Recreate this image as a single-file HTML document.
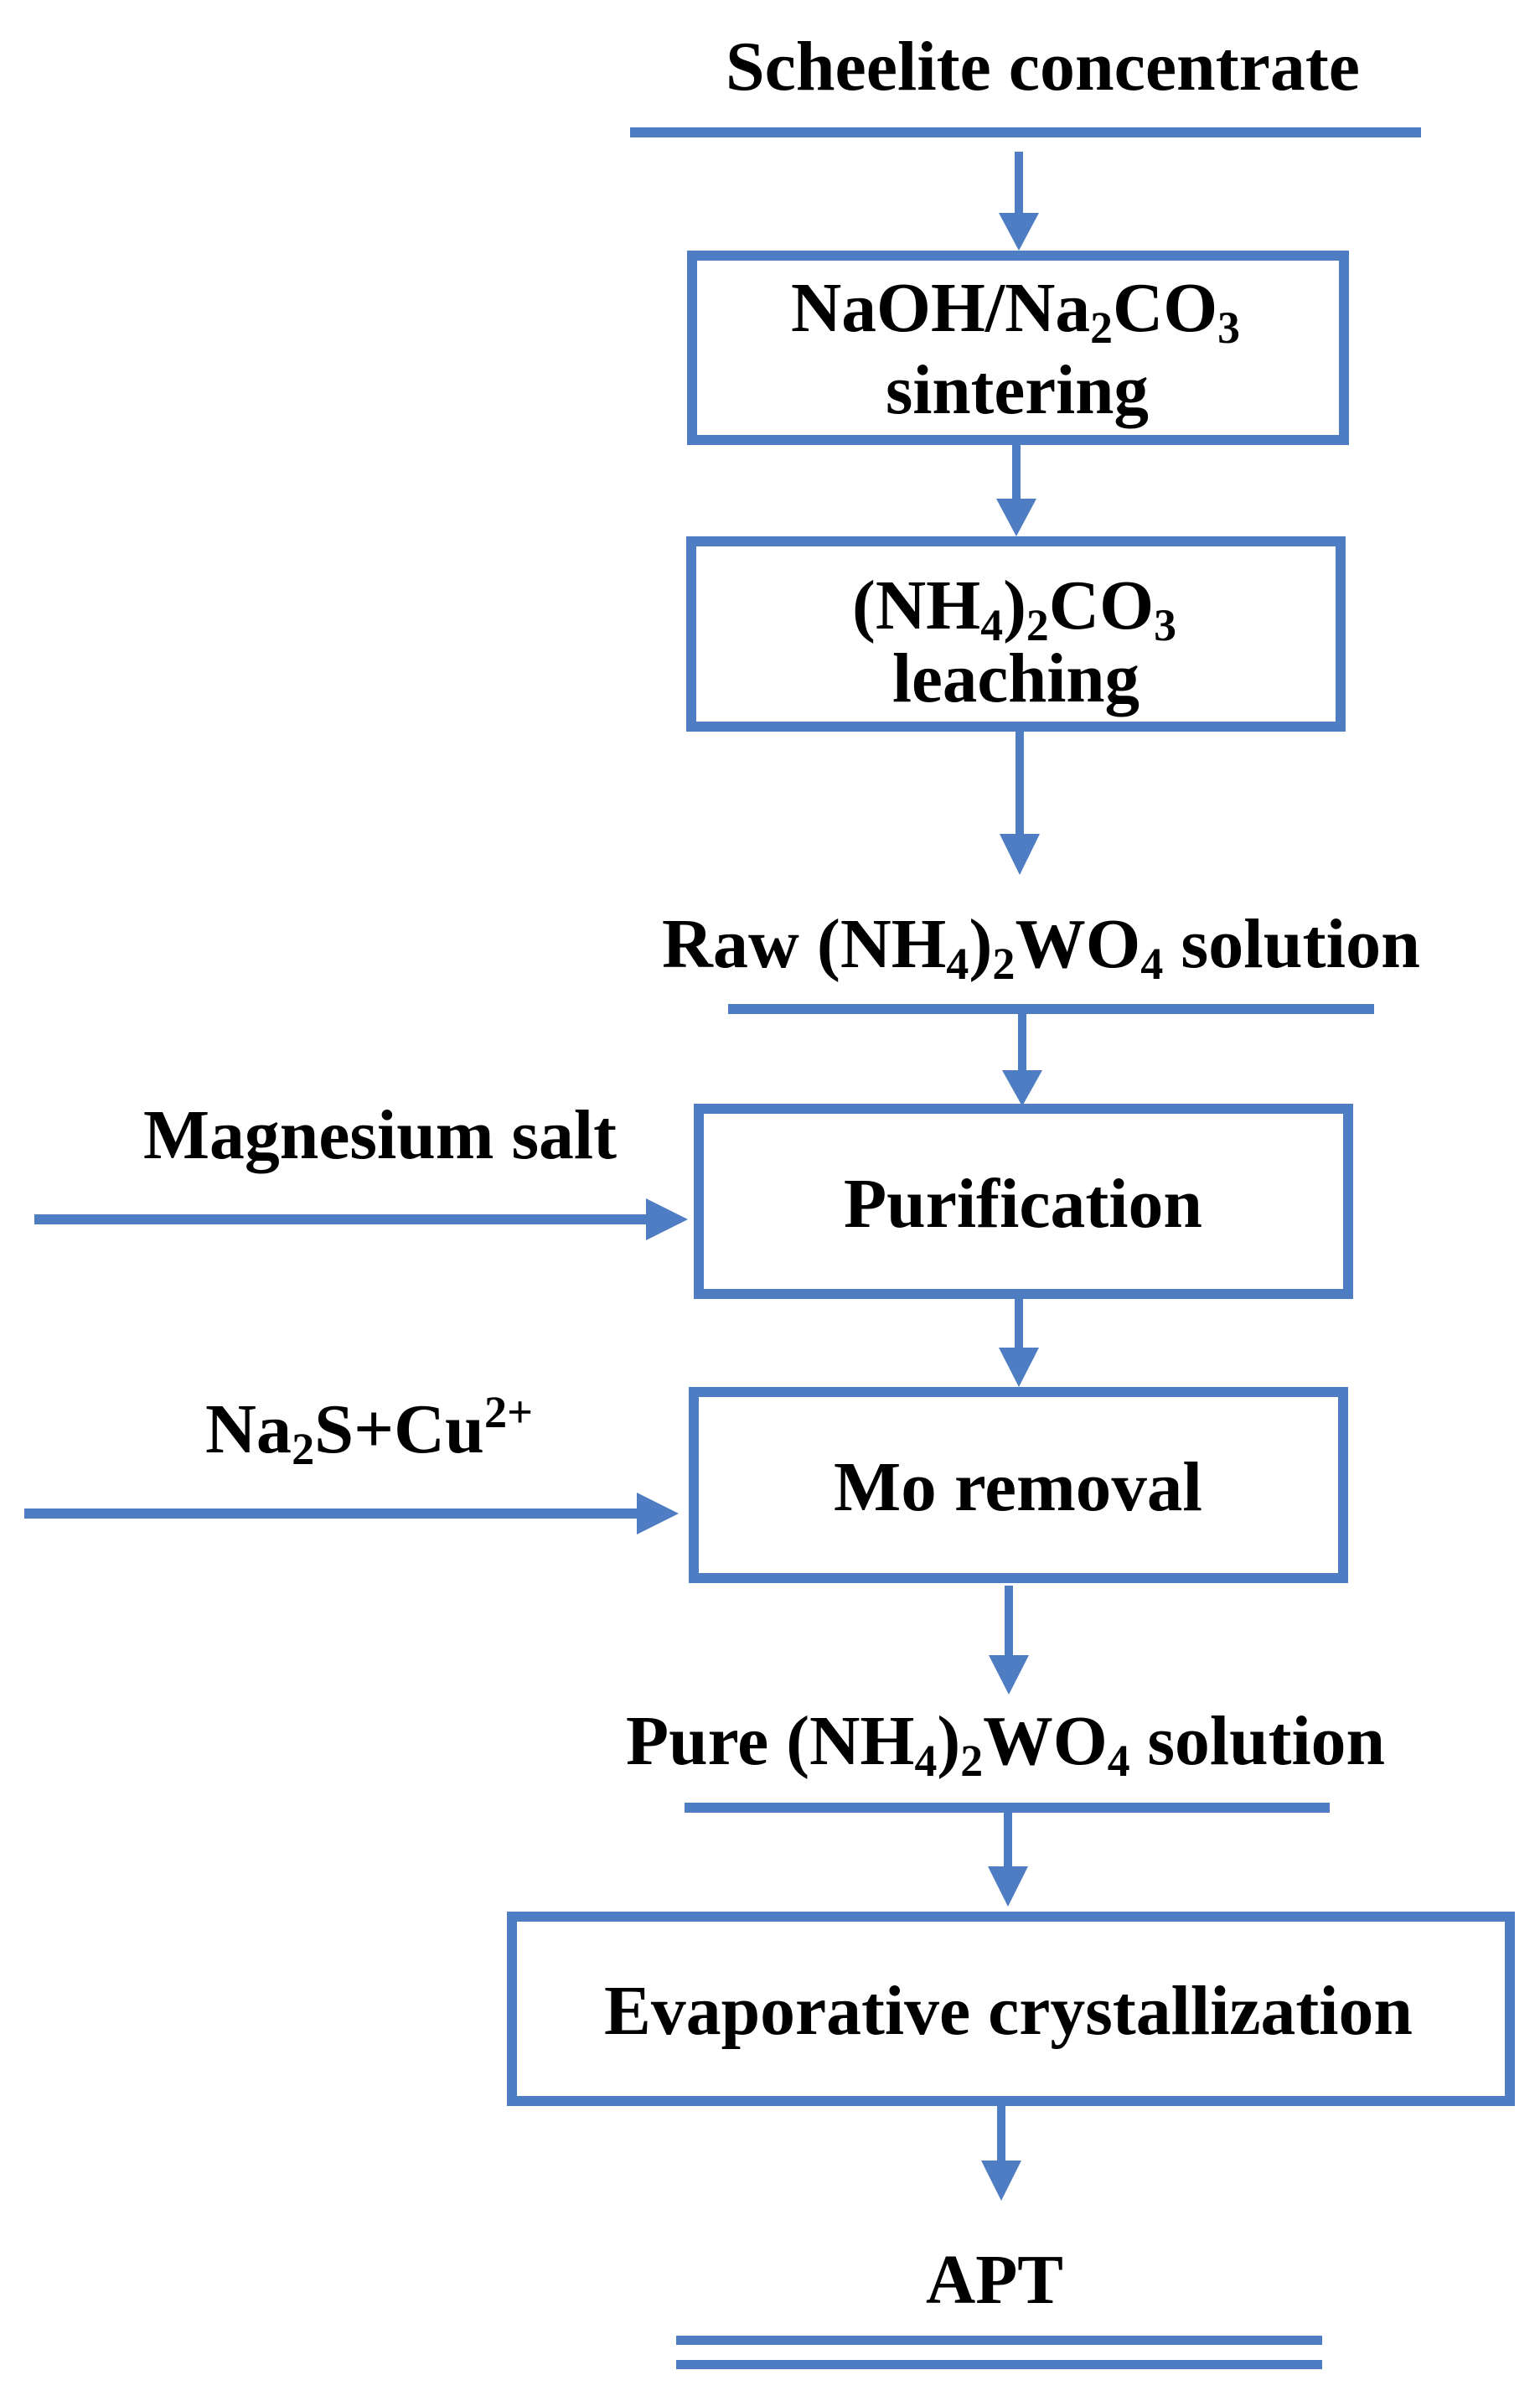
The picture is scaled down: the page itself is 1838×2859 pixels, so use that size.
<!DOCTYPE html>
<html><head><meta charset="utf-8"><style>
html,body{margin:0;padding:0;background:#fff}
svg{display:block}
text{font-family:"Liberation Serif",serif;font-weight:bold;fill:#000;font-size:84px}
.s{font-size:54px}
</style></head><body>
<svg width="1838" height="2859" viewBox="0 0 1838 2859" xmlns="http://www.w3.org/2000/svg">
<g fill="#4e7dc3">
<!-- top line -->
<rect x="752" y="152" width="944" height="12"/>
<!-- arrow1 -->
<rect x="1211" y="181" width="10" height="75"/>
<polygon points="1192,254 1240,254 1216,299"/>
<!-- arrow2 -->
<rect x="1208" y="531" width="10" height="66"/>
<polygon points="1189,595 1237,595 1213,640"/>
<!-- arrow3 -->
<rect x="1212" y="873" width="10" height="124"/>
<polygon points="1193,995 1241,995 1217,1044"/>
<!-- raw line -->
<rect x="869" y="1198" width="771" height="12"/>
<!-- arrow4 -->
<rect x="1215" y="1204" width="10" height="75"/>
<polygon points="1196,1277 1244,1277 1220,1320"/>
<!-- left arrow 1 -->
<rect x="41" y="1449" width="735" height="12"/>
<polygon points="771,1430 771,1480 821,1455"/>
<!-- arrow5 -->
<rect x="1211" y="1550" width="10" height="60"/>
<polygon points="1192,1608 1240,1608 1216,1655"/>
<!-- left arrow 2 -->
<rect x="29" y="1800" width="735" height="12"/>
<polygon points="760,1781 760,1831 810,1806"/>
<!-- arrow6 -->
<rect x="1199" y="1892" width="10" height="85"/>
<polygon points="1180,1975 1228,1975 1204,2022"/>
<!-- pure line -->
<rect x="817" y="2151" width="770" height="12"/>
<!-- arrow7 -->
<rect x="1198" y="2163" width="10" height="66"/>
<polygon points="1179,2227 1227,2227 1203,2275"/>
<!-- arrow8 -->
<rect x="1190" y="2513" width="10" height="67"/>
<polygon points="1171,2578 1219,2578 1195,2626"/>
<!-- double line -->
<rect x="807" y="2787" width="771" height="11"/>
<rect x="807" y="2816" width="771" height="11"/>
</g>
<g fill="none" stroke="#4e7dc3" stroke-width="12">
<rect x="826" y="305" width="778" height="220"/>
<rect x="825" y="646" width="775" height="221"/>
<rect x="834" y="1323" width="775" height="221"/>
<rect x="828" y="1661" width="775" height="222"/>
<rect x="611" y="2287" width="1191" height="220"/>
</g>
<text x="866" y="107" textLength="757" lengthAdjust="spacingAndGlyphs">Scheelite concentrate</text>
<text x="944" y="395" textLength="536" lengthAdjust="spacingAndGlyphs">NaOH/Na<tspan class="s" dy="14">2</tspan><tspan dy="-14">CO</tspan><tspan class="s" dy="14">3</tspan></text>
<text x="1057" y="493" textLength="314" lengthAdjust="spacingAndGlyphs">sintering</text>
<text x="1017" y="750" textLength="387" lengthAdjust="spacingAndGlyphs">(NH<tspan class="s" dy="14">4</tspan><tspan dy="-14">)</tspan><tspan class="s" dy="14">2</tspan><tspan dy="-14">CO</tspan><tspan class="s" dy="14">3</tspan></text>
<text x="1065" y="837" textLength="295" lengthAdjust="spacingAndGlyphs">leaching</text>
<text x="790" y="1154" textLength="905" lengthAdjust="spacingAndGlyphs">Raw (NH<tspan class="s" dy="14">4</tspan><tspan dy="-14">)</tspan><tspan class="s" dy="14">2</tspan><tspan dy="-14">WO</tspan><tspan class="s" dy="14">4</tspan><tspan dy="-14"> solution</tspan></text>
<text x="171" y="1382" textLength="565" lengthAdjust="spacingAndGlyphs">Magnesium salt</text>
<text x="1007" y="1464" textLength="428" lengthAdjust="spacingAndGlyphs">Purification</text>
<text x="245" y="1733" textLength="391" lengthAdjust="spacingAndGlyphs">Na<tspan class="s" dy="14">2</tspan><tspan dy="-14">S+Cu</tspan><tspan class="s" dy="-30">2+</tspan></text>
<text x="995" y="1802" textLength="440" lengthAdjust="spacingAndGlyphs">Mo removal</text>
<text x="747" y="2105" textLength="906" lengthAdjust="spacingAndGlyphs">Pure (NH<tspan class="s" dy="14">4</tspan><tspan dy="-14">)</tspan><tspan class="s" dy="14">2</tspan><tspan dy="-14">WO</tspan><tspan class="s" dy="14">4</tspan><tspan dy="-14"> solution</tspan></text>
<text x="721" y="2427" textLength="965" lengthAdjust="spacingAndGlyphs">Evaporative crystallization</text>
<text x="1105" y="2748" textLength="164" lengthAdjust="spacingAndGlyphs">APT</text>
</svg>
</body></html>
